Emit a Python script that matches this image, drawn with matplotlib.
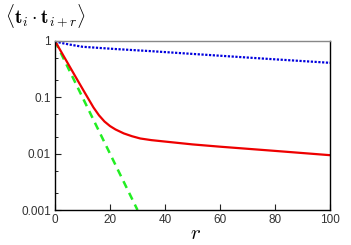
import matplotlib
matplotlib.use("Agg")
import matplotlib.pyplot as plt
from matplotlib.ticker import LogLocator, FixedLocator, NullFormatter

plt.rcParams['mathtext.fontset'] = 'cm'
plt.rcParams['font.family'] = ['Liberation Sans', 'DejaVu Sans']

# blue dotted series
r_blue = [0, 2, 5, 10, 22, 35, 50, 75, 100]
v_blue = [1.0, 0.93, 0.87, 0.79, 0.72, 0.66, 0.59, 0.49, 0.41]

# red solid series
r_red = [0, 4, 8, 11, 14, 16, 18, 20, 22, 25, 28, 31, 35, 40, 50, 60, 80, 100]
v_red = [1.0, 0.457, 0.209, 0.117, 0.066, 0.0479, 0.0372, 0.0309, 0.0269, 0.0229,
         0.0204, 0.0186, 0.0174, 0.0164, 0.0146, 0.0133, 0.0112, 0.0094]

# green dashed series
r_green = [0, 5, 10, 15, 20, 25, 30]
v_green = [1.0, 0.316, 0.1, 0.0316, 0.01, 0.00316, 0.001]

x_ticks = [0, 20, 40, 60, 80, 100]
y_ticks = [0.001, 0.01, 0.1, 1]
y_labels = ['0.001', '0.01', '0.1', '1']

fig = plt.figure(figsize=(3.51, 2.45), dpi=100)
ax = fig.add_axes([55/351, 1 - 210/245, (330-55)/351, (210-41)/245])

ax.plot(r_green, v_green, color='#22ee22', lw=1.8, ls=(0, (3, 2.2)))
ax.plot(r_red, v_red, color='#ee0000', lw=1.6)
ax.plot(r_blue, v_blue, color='#0000dd', lw=1.6, ls=(0, (1, 0.7)))

ax.set_yscale('log')
ax.set_xlim(0, 100)
ax.set_ylim(0.001, 1)
ax.set_xticks(x_ticks)
ax.set_xticklabels([str(t) for t in x_ticks])
ax.yaxis.set_major_locator(FixedLocator(y_ticks))
ax.set_yticklabels(y_labels)
ax.yaxis.set_minor_locator(LogLocator(base=10, subs=(2, 5)))
ax.yaxis.set_minor_formatter(NullFormatter())

ax.tick_params(axis='both', which='major', direction='in', length=4, width=0.8,
               labelsize=8.5, labelcolor='#333333', color='#222222', pad=3)
ax.tick_params(axis='y', which='minor', direction='in', length=2.5, width=0.7, color='#222222')
ax.tick_params(top=False, right=False)

for s in ['left', 'bottom', 'right']:
    ax.spines[s].set_color('black')
    ax.spines[s].set_linewidth(1.0)
ax.spines['top'].set_color('#888888')
ax.spines['top'].set_linewidth(1.0)

fig.text(5/351, 1 - 16/245, r'$\langle \mathbf{t}_i \cdot \mathbf{t}_{i+r} \rangle$',
         fontsize=14, va='center', ha='left')
fig.text(195/351, 1 - 233/245, r'$r$', fontsize=15, va='center', ha='center')

fig.savefig('out.png', dpi=100)
